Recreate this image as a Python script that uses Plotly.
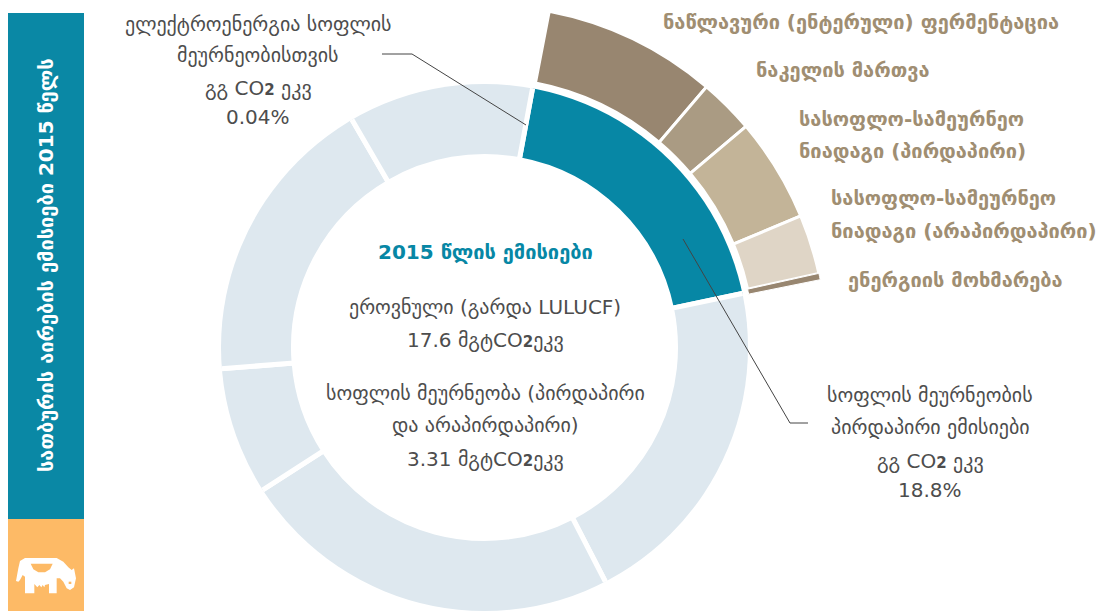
import plotly.graph_objects as go

W, H = 1109, 611
CX, CY = 484.5, 347.5

ring_labels = ["სოფლის მეურნეობის პირდაპირი ემისიები", "b", "c", "d", "e", "f"]
ring_shares = [18.8, 20.7, 23.5, 7.8, 17.9, 11.3]
ring_colors = ["#0787a5"] + ["#dee8ef"] * 5

source_labels = ["ნაწლავური (ენტერული) ფერმენტაცია", "ნაკელის მართვა",
                 "სასოფლო-სამეურნეო ნიადაგი (პირდაპირი)",
                 "სასოფლო-სამეურნეო ნიადაგი (არაპირდაპირი)", "ენერგიის მოხმარება"]
source_shares = [8.2, 2.6, 4.9, 2.8, 0.3]
source_colors = ["#988670", "#aa9b83", "#c3b498", "#dfd5c6", "#988670"]

FONT = "'DejaVu Sans', sans-serif"
DARK = "#4d4d4d"
BROWN = "#a08e72"
TEAL = "#0787a5"
SUB2 = "<b><span style='font-size:15px'>2</span></b>"


def px(x):
    return x / W


def py(y):
    return 1 - y / H


def spans(shares, start):
    theta, width = [], []
    for s in shares:
        w = s * 3.6
        theta.append(start + w / 2)
        width.append(w)
        start += w
    return theta, width


fig = go.Figure()

ring_theta, ring_width = spans(ring_shares, 10.5)
RING = 263.5
fig.add_trace(go.Barpolar(
    r=[76] * 6, base=[191] * 6, theta=ring_theta, width=ring_width,
    marker=dict(color=ring_colors, line=dict(color="white", width=5)),
    text=ring_labels, hoverinfo="skip", showlegend=False, subplot="polar2",
))

src_theta, src_width = spans(source_shares, 10.9)
R = 345
fig.add_trace(go.Barpolar(
    r=[73] * 5, base=[269.5] * 5, theta=src_theta, width=src_width,
    marker=dict(color=source_colors, line=dict(color="white", width=[3, 3, 3, 3, 1])),
    text=source_labels, hoverinfo="text", showlegend=False, subplot="polar",
))

fig.update_layout(
    width=W, height=H, margin=dict(l=0, r=0, t=0, b=0),
    paper_bgcolor="white", plot_bgcolor="white", font=dict(family=FONT),
    polar=dict(
        domain=dict(x=[px(CX), px(CX + R)], y=[py(CY), py(CY - R)]),
        sector=[0, 90], bgcolor="rgba(0,0,0,0)",
        radialaxis=dict(visible=False, range=[0, R]),
        angularaxis=dict(visible=False, direction="clockwise", rotation=90, thetaunit="degrees"),
    ),
    polar2=dict(
        domain=dict(x=[px(CX - RING), px(CX + RING)], y=[py(CY + RING), py(CY - RING)]),
        bgcolor="rgba(0,0,0,0)",
        radialaxis=dict(visible=False, range=[0, RING]),
        angularaxis=dict(visible=False, direction="clockwise", rotation=90, thetaunit="degrees"),
    ),
)


def rect(x0, y0, x1, y1, color):
    fig.add_shape(type="rect", xref="paper", yref="paper", x0=px(x0), x1=px(x1),
                  y0=py(y0), y1=py(y1), fillcolor=color, line_width=0, layer="below")


def path(points, color, closed=True, width=0):
    d = "M " + " L ".join(f"{px(x):.5f},{py(y):.5f}" for x, y in points) + (" Z" if closed else "")
    if closed:
        fig.add_shape(type="path", xref="paper", yref="paper", path=d, fillcolor=color, line_width=0)
    else:
        fig.add_shape(type="path", xref="paper", yref="paper", path=d, line=dict(color=color, width=width))


def text(x, y, s, size=20, color=DARK, anchor="center", angle=0):
    fig.add_annotation(xref="paper", yref="paper", x=px(x), y=py(y), text=s, showarrow=False,
                       xanchor=anchor, yanchor="middle", textangle=angle,
                       font=dict(family=FONT, size=size, color=color))


rect(8, 13, 84, 519, "#0a88a5")
rect(8, 519, 84, 611, "#fdba66")

# cow icon
cow = [(48, 213), (55, 175), (60, 153), (75, 144), (170, 144), (190, 155), (205, 172), (215, 180),
       (222, 175), (228, 205), (222, 232), (210, 240), (200, 235), (190, 215), (180, 205), (170, 205),
       (170, 250), (147, 250), (147, 222), (135, 225), (133, 232), (128, 225), (124, 232), (118, 225),
       (112, 232), (103, 222), (103, 250), (75, 250), (75, 200), (68, 195), (60, 210), (55, 215)]
udder = [(92, 161), (158, 161), (150, 178), (135, 187), (115, 187), (100, 178)]
eye = [(206, 215), (214, 215), (214, 222), (206, 222)]
path([(x / 3, 510 + y / 3) for x, y in cow], "white")
path([(x / 3, 510 + y / 3) for x, y in udder], "#fdba66")
path([(x / 3, 510 + y / 3) for x, y in eye], "#fdba66")

# leader lines
path([(382, 54), (412, 54), (526, 125)], "#444444", closed=False, width=1)
path([(683, 239), (790, 423), (808, 423)], "#444444", closed=False, width=1)

text(46, 265, "<b>სათბურის აირების ემისიები 2015 წელს</b>", size=20, color="white", angle=-90)

text(258, 24, "ელექტროენერგია სოფლის")
text(258, 55, "მეურნეობისთვის")
text(258, 88, f"გგ CO{SUB2} ეკვ")
text(258, 117, "0.04%")

text(485, 252, "<b>2015 წლის ემისიები</b>", color=TEAL)
text(485, 307, "ეროვნული (გარდა LULUCF)")
text(485, 340, f"17.6 მგტCO{SUB2}ეკვ")
text(485, 393, "სოფლის მეურნეობა (პირდაპირი")
text(485, 425, "და არაპირდაპირი)")
text(485, 459, f"3.31 მგტCO{SUB2}ეკვ")

text(930, 395, "სოფლის მეურნეობის")
text(930, 427, "პირდაპირი ემისიები")
text(930, 461, f"გგ CO{SUB2} ეკვ")
text(930, 490, "18.8%")

for x, y, s in [(661, 22, "ნაწლავური (ენტერული) ფერმენტაცია"), (754, 70, "ნაკელის მართვა"),
                (797, 119, "სასოფლო-სამეურნეო"), (797, 151, "ნიადაგი (პირდაპირი)"),
                (829, 198, "სასოფლო-სამეურნეო"), (829, 231, "ნიადაგი (არაპირდაპირი)"),
                (846, 280, "ენერგიის მოხმარება")]:
    text(x, y, f"<b>{s}</b>", color=BROWN, anchor="left")

fig.write_html("out.html", config=dict(displayModeBar=False),
               post_script="document.body.style.margin='0';")
